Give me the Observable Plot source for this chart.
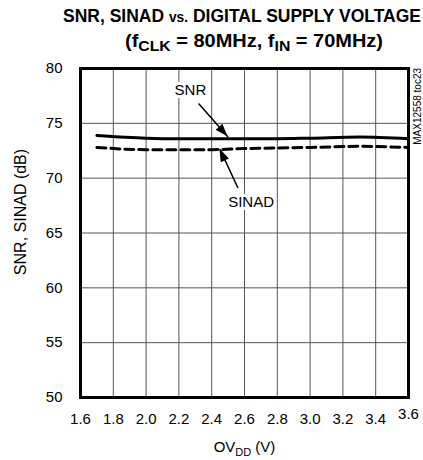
<!DOCTYPE html>
<html><head><meta charset="utf-8">
<script src="https://cdn.jsdelivr.net/npm/d3@7"></script>
<script src="https://cdn.jsdelivr.net/npm/@observablehq/plot@0.6"></script>
<style>
body{margin:0;background:#fff;width:423px;}
#title{position:relative;height:52px;overflow:visible;}
.t{position:absolute;left:0;font-family:"Liberation Sans",Arial,sans-serif;font-weight:bold;font-size:19px;line-height:19px;white-space:nowrap;transform-origin:left top;}
.t sub{font-size:15px;vertical-align:-4px;line-height:0;}
.t .sm{font-size:15px;}
</style></head><body>
<div id="title"><span class="t" id="t1" style="top:6px">SNR, SINAD <span class="sm">vs.</span> DIGITAL SUPPLY VOLTAGE</span>
<span class="t" id="t2" style="top:31px">(f<sub>CLK</sub> = 80MHz, f<sub>IN</sub> = 70MHz)</span></div>
<div id="chart"></div>
<script>
const voltage = [1.7, 2.0, 2.2, 2.4, 2.6, 2.8, 3.0, 3.3, 3.6];
const snr     = [73.9, 73.65, 73.6, 73.6, 73.6, 73.6, 73.65, 73.75, 73.6];
const sinad   = [72.8, 72.6, 72.6, 72.6, 72.7, 72.75, 72.8, 72.9, 72.8];
const xTicks = [1.6, 1.8, 2.0, 2.2, 2.4, 2.6, 2.8, 3.0, 3.2, 3.4];
const xTickLast = [3.6];
const yTicks = [50, 55, 60, 65, 70, 75, 80];
const labels = [{text:"SNR", x:2.27, y:78.0}, {text:"SINAD", x:2.64, y:67.8}];
const arrows = [{x1:2.32, y1:76.8, x2:2.50, y2:73.75}, {x1:2.56, y1:69.1, x2:2.45, y2:72.65}];

function fit(id, left, w){ const el=document.getElementById(id); const r=el.getBoundingClientRect().width; el.style.transform=`scaleX(${w/r})`; el.style.left=left+"px"; }
fit("t1", 63, 358);
fit("t2", 125, 258);

const snrData = voltage.map((v,i)=>({v, y:snr[i]}));
const sinadData = voltage.map((v,i)=>({v, y:sinad[i]}));
const font = '"Liberation Sans",Arial,sans-serif';
const allX = xTicks.concat(xTickLast);

const chart = Plot.plot({
  width: 423, height: 408,
  marginLeft: 80, marginRight: 15, marginTop: 16, marginBottom: 63,
  style: {fontFamily: font, fontSize: "15px", color: "#000", background: "#fff"},
  x: {domain: [1.6, 3.6], label: null, axis: null},
  y: {domain: [50, 80], label: null, axis: null},
  marks: [
    Plot.gridX(allX, {stroke: "#555", strokeOpacity: 1, strokeWidth: 1}),
    Plot.gridY(yTicks, {stroke: "#555", strokeOpacity: 1, strokeWidth: 1}),
    Plot.text(xTicks, {x: d => d, y: 50, text: d => d.toFixed(1), lineAnchor: "top", dy: 16, fontSize: 15}),
    Plot.text(xTickLast, {x: d => d, y: 50, text: d => d.toFixed(1), lineAnchor: "top", dy: 11, fontSize: 15}),
    Plot.text(yTicks, {x: 1.6, y: d => d, text: d => String(d), textAnchor: "end", dx: -18, fontSize: 15}),
    Plot.text(labels, {x: "x", y: "y", text: "text", fontSize: 15, stroke: "white", strokeWidth: 6, fill: "black"}),
    Plot.line(snrData, {x: "v", y: "y", stroke: "black", strokeWidth: 3, curve: "monotone-x"}),
    Plot.line(sinadData, {x: "v", y: "y", stroke: "black", strokeWidth: 3, strokeDasharray: "9,5", curve: "monotone-x"}),
    Plot.link(arrows, {x1: "x1", y1: "y1", x2: "x2", y2: "y2", stroke: "black", strokeWidth: 1.5}),
    Plot.frame({stroke: "black", strokeWidth: 3}),
    Plot.text(["OV"], {frameAnchor: "bottom", dy: 54, text: d => d, fontSize: 15})
  ]
});
document.getElementById("chart").appendChild(chart);

const svg = d3.select(chart);
const sx = chart.scale("x"), sy = chart.scale("y");
arrows.forEach(a => {
  const x1 = sx.apply(a.x1), y1 = sy.apply(a.y1), x2 = sx.apply(a.x2), y2 = sy.apply(a.y2);
  const ang = Math.atan2(y2 - y1, x2 - x1), L = 13, W = 4.5;
  const bx = x2 - L*Math.cos(ang), by = y2 - L*Math.sin(ang);
  const px = -Math.sin(ang)*W, py = Math.cos(ang)*W;
  svg.append("path").attr("d", `M${x2},${y2}L${bx+px},${by+py}L${bx-px},${by-py}Z`).attr("fill", "black");
});
svg.selectAll("text").filter(function(){return this.textContent==="OV";}).each(function(){
  const t = d3.select(this);
  t.text(null);
  t.append("tspan").text("OV");
  t.append("tspan").attr("font-size", 11).attr("dy", 4).text("DD");
  t.append("tspan").attr("dy", -4).text(" (V)");
});
svg.append("text").attr("transform", "translate(26,160) rotate(-90)")
  .attr("text-anchor", "middle").attr("font-size", 16).attr("font-family", font).text("SNR, SINAD (dB)");
svg.append("text").attr("transform", "translate(421,16) rotate(-90)")
  .attr("text-anchor", "end").attr("font-size", 10).attr("font-family", font).text("MAX12558 toc23");
</script>
</body></html>
